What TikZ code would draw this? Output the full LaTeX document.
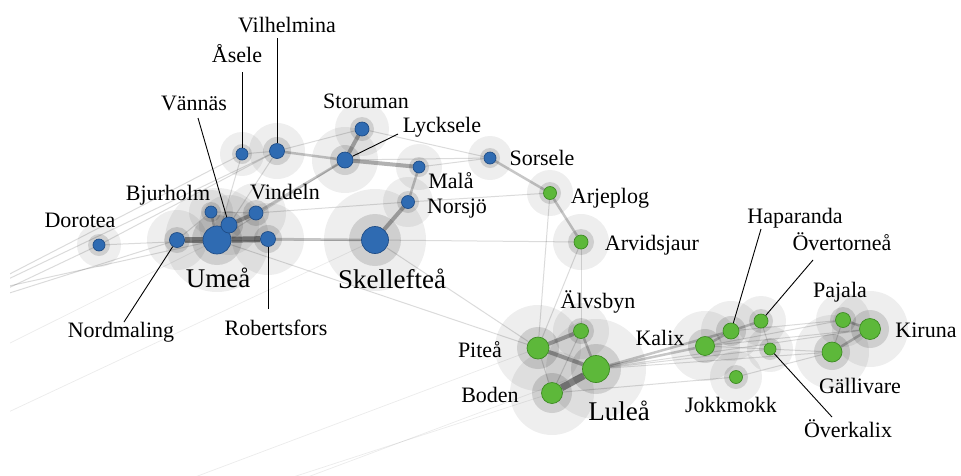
\documentclass[tikz,border=0pt]{standalone}
\usepackage{fontspec}
\setmainfont{Liberation Serif}
\definecolor{bluefill}{HTML}{2F6BB2}
\definecolor{blueline}{HTML}{1E4C86}
\definecolor{greenfill}{HTML}{5DB83A}
\definecolor{greenline}{HTML}{3C8A22}
\pgfdeclarelayer{halo}
\pgfdeclarelayer{edges}
\pgfsetlayers{halo,edges,main}
\newcommand\halo[3]{\fill[haloout] (#1.center) circle[radius=#3];\fill[haloin] (#1.center) circle[radius=#2];}
\begin{document}
\begin{tikzpicture}[x=1pt,y=-1pt,
  city/.style={circle,inner sep=0pt,line width=0.7pt},
  bl/.style={city,fill=bluefill,draw=blueline},
  gr/.style={city,fill=greenfill,draw=greenline},
  haloout/.style={fill=black,fill opacity=0.065},
  haloin/.style={fill=black,fill opacity=0.13},
  ea/.style={draw=black,line width=0.7pt,draw opacity=0.08},
  eb/.style={draw=black,line width=1pt,draw opacity=0.14},
  ec/.style={draw=black,line width=2.5pt,draw opacity=0.22},
  ed/.style={draw=black,line width=4pt,draw opacity=0.3},
  ee/.style={draw=black,line width=6pt,draw opacity=0.42},
  lab/.style={inner sep=0pt,anchor=base,font=\fontsize{22}{24}\selectfont},
  big/.style={inner sep=0pt,anchor=base,font=\fontsize{27}{29}\selectfont},
  leader/.style={draw=black,line width=0.9pt}]
\useasboundingbox (0,0) rectangle (961,475);
% blue nodes
\node[bl,minimum size=28pt] (umea) at (217,240) {};
\node[bl,minimum size=15pt] (nordmaling) at (177,240) {};
\node[bl,minimum size=12pt] (bjurholm) at (211,212) {};
\node[bl,minimum size=16pt] (vannas) at (229,225) {};
\node[bl,minimum size=14pt] (vindeln) at (256,213) {};
\node[bl,minimum size=15pt] (robertsfors) at (268,239) {};
\node[bl,minimum size=12pt] (dorotea) at (99,245) {};
\node[bl,minimum size=27pt] (skelleftea) at (375,240) {};
\node[bl,minimum size=12pt] (asele) at (242,154) {};
\node[bl,minimum size=15pt] (vilhelmina) at (277,151) {};
\node[bl,minimum size=14pt] (storuman) at (362,129) {};
\node[bl,minimum size=16pt] (lycksele) at (345,160) {};
\node[bl,minimum size=12pt] (mala) at (419,167) {};
\node[bl,minimum size=13pt] (norsjo) at (408,202) {};
\node[bl,minimum size=12pt] (sorsele) at (490,158) {};
% green nodes
\node[gr,minimum size=13pt] (arjeplog) at (550,193) {};
\node[gr,minimum size=14pt] (arvidsjaur) at (581,242) {};
\node[gr,minimum size=15pt] (alvsbyn) at (581,331) {};
\node[gr,minimum size=22pt] (pitea) at (538,348) {};
\node[gr,minimum size=27pt] (lulea) at (596,369) {};
\node[gr,minimum size=21pt] (boden) at (552,393) {};
\node[gr,minimum size=19pt] (kalix) at (705,346) {};
\node[gr,minimum size=16pt] (haparanda) at (731,331) {};
\node[gr,minimum size=14pt] (overtornea) at (761,321) {};
\node[gr,minimum size=12pt] (overkalix) at (770,349) {};
\node[gr,minimum size=13pt] (jokkmokk) at (736,377) {};
\node[gr,minimum size=15pt] (pajala) at (843,320) {};
\node[gr,minimum size=21pt] (kiruna) at (870,329) {};
\node[gr,minimum size=20pt] (gallivare) at (832,352) {};
% halos
\begin{pgfonlayer}{halo}
\fill[white] (0,0) rectangle (961,475);
\halo{umea}{25}{52}
\halo{nordmaling}{13}{30}
\halo{bjurholm}{10}{22}
\halo{vannas}{14}{30}
\halo{vindeln}{13}{30}
\halo{robertsfors}{14}{36}
\halo{dorotea}{11}{22}
\halo{skelleftea}{26}{51}
\halo{asele}{10}{22}
\halo{vilhelmina}{14}{28}
\halo{storuman}{12}{27}
\halo{lycksele}{15}{33}
\halo{mala}{10}{23}
\halo{norsjo}{11}{25}
\halo{sorsele}{10}{22}
\halo{arjeplog}{11}{23}
\halo{arvidsjaur}{13}{28}
\halo{alvsbyn}{13}{28}
\halo{pitea}{21}{43}
\halo{lulea}{25}{50}
\halo{boden}{20}{42}
\halo{kalix}{17}{35}
\halo{haparanda}{15}{30}
\halo{overtornea}{12}{25}
\halo{overkalix}{11}{23}
\halo{jokkmokk}{12}{26}
\halo{pajala}{13}{27}
\halo{kiruna}{19}{38}
\halo{gallivare}{18}{37}
\end{pgfonlayer}
% edges
\begin{pgfonlayer}{edges}
\begin{scope}
\clip (10,0) rectangle (961,475);
\coordinate (w1) at (0,283);
\coordinate (w2) at (0,288);
\coordinate (w3) at (0,292);
\coordinate (w4) at (0,296);
\coordinate (w5) at (0,279);
\coordinate (w6) at (0,348);
\coordinate (w7) at (0,416);
\coordinate (s1) at (195,477);
\coordinate (s2) at (290,478);
\coordinate (s3) at (305,478);
\draw[eb] (dorotea) -- (w3);
\draw[eb] (umea) -- (w2);
\draw[eb] (nordmaling) -- (w4);
\draw[eb] (vilhelmina) -- (w1);
\draw[eb] (asele) -- (w5);
\draw[ea] (umea) -- (w6);
\draw[ea] (skelleftea) -- (w7);
\draw[ea] (pitea) -- (s1);
\draw[ea] (boden) -- (s2);
\draw[ea] (lulea) -- (s3);
\end{scope}
\draw[ee] (nordmaling) -- (umea);
\draw[ee] (umea) -- (robertsfors);
\draw[ee,line width=7pt] (lulea) -- (boden);
\draw[ed] (vannas) -- (vindeln);
\draw[ed] (umea) -- (vannas);
\draw[ed] (pitea) -- (lulea);
\draw[ed] (lycksele) -- (storuman);
\draw[ed] (lycksele) -- (mala);
\draw[ed] (norsjo) -- (skelleftea);
\draw[ed] (pitea) -- (alvsbyn);
\draw[ec] (robertsfors) -- (skelleftea);
\draw[ec] (mala) -- (norsjo);
\draw[ec] (sorsele) -- (arjeplog);
\draw[ec] (arjeplog) -- (arvidsjaur);
\draw[ec] (umea) -- (bjurholm);
\draw[ec] (vindeln) -- (lycksele);
\draw[ec] (lulea) -- (kalix);
\draw[ec] (kalix) -- (haparanda);
\draw[ec] (pajala) -- (kiruna);
\draw[ec] (kiruna) -- (gallivare);
\draw[ec] (alvsbyn) -- (lulea);
\draw[ec] (lulea) -- (haparanda);
\draw[ec] (haparanda) -- (overtornea);
\draw[ec] (vilhelmina) -- (lycksele);
\draw[eb] (asele) -- (vilhelmina);
\draw[eb] (vilhelmina) -- (storuman);
\draw[eb] (storuman) -- (sorsele);
\draw[eb] (lycksele) -- (sorsele);
\draw[eb] (mala) -- (sorsele);
\draw[eb] (norsjo) -- (arjeplog);
\draw[eb] (arvidsjaur) -- (alvsbyn);
\draw[eb] (arvidsjaur) -- (pitea);
\draw[eb] (arjeplog) -- (pitea);
\draw[eb] (alvsbyn) -- (boden);
\draw[eb] (pitea) -- (boden);
\draw[eb] (overtornea) -- (overkalix);
\draw[eb] (pajala) -- (gallivare);
\draw[eb] (jokkmokk) -- (gallivare);
\draw[eb] (boden) -- (jokkmokk);
\draw[eb] (kalix) -- (pajala);
\draw[eb] (kalix) -- (kiruna);
\draw[eb] (kalix) -- (gallivare);
\draw[eb] (haparanda) -- (pajala);
\draw[eb] (lulea) -- (gallivare);
\draw[eb] (lulea) -- (kiruna);
\draw[eb] (lulea) -- (overkalix);
\draw[eb] (umea) -- (pitea);
\draw[eb] (skelleftea) -- (pitea);
\draw[eb] (skelleftea) -- (arvidsjaur);
\draw[eb] (dorotea) -- (vilhelmina);
\draw[eb] (dorotea) -- (umea);
\draw[eb] (umea) -- (lycksele);
\draw[eb] (asele) -- (umea);
\draw[eb] (vilhelmina) -- (vannas);
\draw[eb] (bjurholm) -- (vindeln);
\draw[eb] (nordmaling) -- (bjurholm);
\draw[eb] (vindeln) -- (norsjo);
\draw[eb] (umea) -- (skelleftea);
\end{pgfonlayer}
% labels
\node[lab] (tvilhelmina) at (287,32) {Vilhelmina};
\node[lab] (tasele) at (237,62) {Åsele};
\node[lab] (tvannas) at (194,110) {Vännäs};
\node[lab] (tstoruman) at (366,108) {Storuman};
\node[lab] (tlycksele) at (442,132) {Lycksele};
\node[lab] (tmala) at (451,188) {Malå};
\node[lab] (tnorsjo) at (457,213) {Norsjö};
\node[lab] (tsorsele) at (542,165) {Sorsele};
\node[lab] (tarjeplog) at (610,203) {Arjeplog};
\node[lab] (thaparanda) at (795,223) {Haparanda};
\node[lab] (tovertornea) at (842,250) {Övertorneå};
\node[lab] (tarvidsjaur) at (652,250) {Arvidsjaur};
\node[lab] (tbjurholm) at (168,200) {Bjurholm};
\node[lab] (tvindeln) at (285,199) {Vindeln};
\node[lab] (tdorotea) at (80,227) {Dorotea};
\node[big] (tumea) at (218,287) {Umeå};
\node[big] (tskelleftea) at (392,288) {Skellefteå};
\node[lab] (tnordmaling) at (121,337) {Nordmaling};
\node[lab] (trobertsfors) at (276,335) {Robertsfors};
\node[lab] (tpitea) at (480,357) {Piteå};
\node[lab] (tboden) at (490,402) {Boden};
\node[big] (tlulea) at (619,420) {Luleå};
\node[lab] (talvsbyn) at (598,308) {Älvsbyn};
\node[lab] (tkalix) at (660,345) {Kalix};
\node[lab] (tjokkmokk) at (731,412) {Jokkmokk};
\node[lab] (tgallivare) at (860,393) {Gällivare};
\node[lab] (toverkalix) at (848,437) {Överkalix};
\node[lab] (tpajala) at (840,297) {Pajala};
\node[lab] (tkiruna) at (926,337) {Kiruna};
% leaders
\coordinate (cvilhelmina) at (277,38);
\coordinate (casele) at (242,72);
\coordinate (cvannas) at (198,118);
\coordinate (clycksele) at (398,134);
\coordinate (cnordmaling) at (124,322);
\coordinate (crobertsfors) at (268,309);
\coordinate (chaparanda) at (761,229);
\coordinate (covertornea) at (813,260);
\coordinate (coverkalix) at (832,417);
\draw[leader] (cvilhelmina) -- (vilhelmina);
\draw[leader] (casele) -- (asele);
\draw[leader] (cvannas) -- (vannas);
\draw[leader] (clycksele) -- (lycksele);
\draw[leader] (cnordmaling) -- (nordmaling);
\draw[leader] (crobertsfors) -- (robertsfors);
\draw[leader] (chaparanda) -- (haparanda);
\draw[leader] (covertornea) -- (overtornea);
\draw[leader] (coverkalix) -- (overkalix);
\end{tikzpicture}
\end{document}
